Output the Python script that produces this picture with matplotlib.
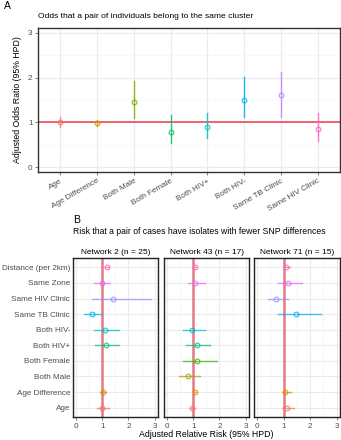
import numpy as np
import matplotlib
matplotlib.use('Agg')
import matplotlib.pyplot as plt

plt.rcParams['font.family'] = ['Liberation Sans', 'DejaVu Sans']

nan = np.nan

# panel A: odds of belonging to the same cluster
a_cats = ['Age', 'Age Difference', 'Both Male', 'Both Female', 'Both HIV+',
          'Both HIV-', 'Same TB Clinic', 'Same HIV Clinic']
a_est = [1.00, 0.98, 1.45, 0.78, 0.89, 1.51, 1.61, 0.86]
a_lo = [0.89, 0.92, 1.10, 0.53, 0.66, 1.11, 1.13, 0.58]
a_hi = [1.13, 1.06, 1.92, 1.16, 1.20, 2.01, 2.13, 1.21]

# panel B: relative risk per network (bottom -> top)
b_cats = ['Age', 'Age Difference', 'Both Male', 'Both Female', 'Both HIV+',
          'Both HIV-', 'Same TB Clinic', 'Same HIV Clinic', 'Same Zone',
          'Distance (per 2km)']
networks = ['Network 2 (n = 25)', 'Network 43 (n = 17)', 'Network 71 (n = 15)']
n2_est = [0.99, 1.03, nan, nan, 1.13, 1.10, 0.59, 1.42, 0.97, 1.17]
n2_lo = [0.81, 0.93, nan, nan, 0.73, 0.67, 0.31, 0.62, 0.68, 1.10]
n2_hi = [1.26, 1.15, nan, nan, 1.65, 1.65, 0.94, 2.87, 1.29, 1.26]
n43_est = [0.96, 1.06, 0.80, 1.15, 1.15, 0.96, nan, nan, 1.07, 1.05]
n43_lo = [0.87, 1.00, 0.47, 0.61, 0.74, 0.61, nan, nan, 0.79, 1.01]
n43_hi = [1.06, 1.11, 1.25, 1.91, 1.63, 1.43, nan, nan, 1.43, 1.09]
n71_est = [1.14, 1.06, nan, nan, nan, nan, 1.47, 0.72, 1.15, 1.10]
n71_lo = [0.93, 0.97, nan, nan, nan, nan, 0.77, 0.40, 0.77, 1.03]
n71_hi = [1.40, 1.27, nan, nan, nan, nan, 2.41, 1.18, 1.68, 1.23]
b_est = [n2_est, n43_est, n71_est]
b_lo = [n2_lo, n43_lo, n71_lo]
b_hi = [n2_hi, n43_hi, n71_hi]

pal8 = ['#F8766D', '#CD9600', '#7CAE00', '#00BE67', '#00BFC4', '#00A9FF', '#C77CFF', '#FF61CC']
pal10 = ['#F8766D', '#D89000', '#A3A500', '#39B600', '#00BF7D', '#00BFC4', '#00B0F6',
         '#9590FF', '#E76BF3', '#FF62BC']

W, H = 341, 440
fig = plt.figure(figsize=(W / 100, H / 100), dpi=100)

def box(l, t, r, b):
    return [l / W, 1 - b / H, (r - l) / W, (b - t) / H]

tick_col = '#4D4D4D'

# ---------------- panel A
ax = fig.add_axes(box(38, 28, 340, 172))
x = np.arange(1, len(a_cats) + 1)
for i in range(len(a_cats)):
    ax.plot([x[i], x[i]], [a_lo[i], a_hi[i]], color=pal8[i], lw=1.0, alpha=0.85, zorder=3)
    ax.plot(x[i], a_est[i], 'o', mfc='none', mec=pal8[i], ms=3.4, mew=0.8, alpha=0.85, zorder=4)
ax.axhline(1, color='#EE4B55', lw=1.2, zorder=2)
ax.set_xlim(0.4, len(a_cats) + 0.6)
ax.set_ylim(-0.11, 3.11)
ax.set_yticks([0, 1, 2, 3])
ax.set_yticks([0.5, 1.5, 2.5], minor=True)
ax.set_xticks(x)
ax.set_xticklabels(a_cats, rotation=30, ha='right', rotation_mode='anchor')
ax.grid(True, which='major', color='#EBEBEB', lw=0.9)
ax.grid(True, which='minor', axis='y', color='#EBEBEB', lw=0.6, ls=':')
ax.set_axisbelow(True)
ax.tick_params(labelsize=5.9, colors=tick_col, length=2, width=0.5, pad=2)
ax.tick_params(which='minor', length=0)
for s in ax.spines.values():
    s.set_color('#333333')
    s.set_linewidth(1.0)
ax.set_ylabel('Adjusted Odds Ratio (95% HPD)', fontsize=6.3, labelpad=4)
fig.text(4 / W, 1 - 6 / H, 'A', fontsize=7.5, va='center', ha='left')
fig.text(38 / W, 1 - 17 / H, 'Odds that a pair of individuals belong to the same cluster',
         fontsize=6.1, va='center', ha='left')

# ---------------- panel B
facet_x = [(73, 158), (164, 249), (254, 340)]
y = np.arange(1, len(b_cats) + 1)
for k, (l, r) in enumerate(facet_x):
    bx = fig.add_axes(box(l, 258, r, 417))
    bx.axvline(1, color='#E07A85', lw=1.8, zorder=2)
    for i in range(len(b_cats)):
        e, lo, hi = b_est[k][i], b_lo[k][i], b_hi[k][i]
        if np.isnan(e):
            continue
        bx.plot([lo, hi], [y[i], y[i]], color=pal10[i], lw=1.0, alpha=0.75, zorder=3)
        bx.plot(e, y[i], 'o', mfc='none', mec=pal10[i], ms=3.4, mew=0.8, alpha=0.85, zorder=4)
    bx.set_xlim(-0.12, 3.13)
    bx.set_ylim(0.4, len(b_cats) + 0.6)
    bx.set_xticks([0, 1, 2, 3])
    bx.set_xticks([0.5, 1.5, 2.5], minor=True)
    bx.set_yticks(y)
    if k == 0:
        bx.set_yticklabels(b_cats)
    else:
        bx.set_yticklabels([])
    bx.grid(True, which='major', color='#EBEBEB', lw=0.8)
    bx.grid(True, which='minor', axis='x', color='#F2F2F2', lw=0.5)
    bx.set_axisbelow(True)
    bx.tick_params(labelsize=5.9, colors=tick_col, length=2, width=0.5, pad=2)
    bx.tick_params(axis='y', length=0)
    bx.tick_params(which='minor', length=0)
    for s in bx.spines.values():
        s.set_color('#222222')
        s.set_linewidth(1.0)
    bx.set_title(networks[k], fontsize=6.0, pad=3)

fig.text(73 / W, 1 - 220 / H, 'B', fontsize=7.5, va='center', ha='left')
fig.text(73 / W, 1 - 231 / H, 'Risk that a pair of cases have isolates with fewer SNP differences',
         fontsize=6.2, va='center', ha='left')
fig.text(206 / W, 1 - 434 / H, 'Adjusted Relative Risk (95% HPD)', fontsize=6.3,
         va='center', ha='center')

fig.savefig('out.png', dpi=100)
